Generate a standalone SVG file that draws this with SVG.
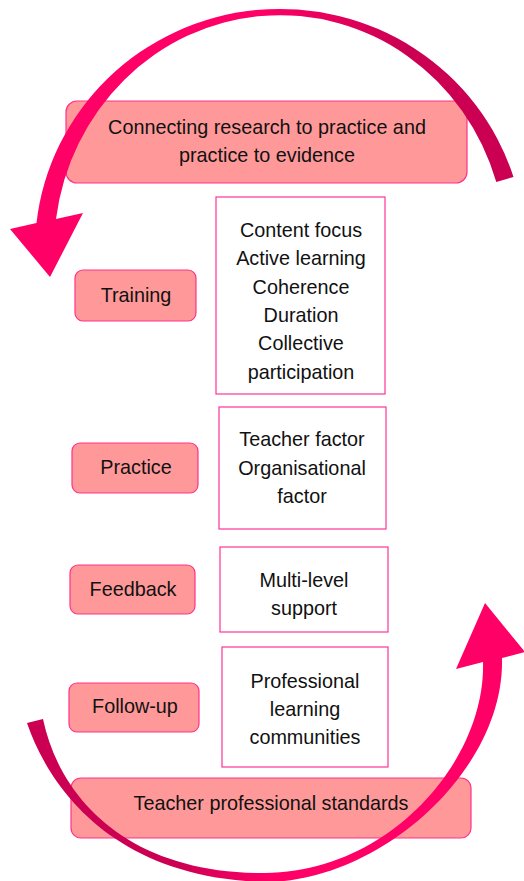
<svg xmlns="http://www.w3.org/2000/svg" width="524" height="881" viewBox="0 0 524 881">
  <style>
    .lbl { fill: #ff9999; stroke: #ff3388; stroke-width: 1.2; }
    .det { fill: #ffffff; stroke: #ff3399; stroke-width: 1.2; }
    text { font-family: "Liberation Sans", Arial, sans-serif; font-size: 19.8px; fill: #111111; text-anchor: middle; }
  </style>
  <defs>
    <linearGradient id="gTop" gradientUnits="userSpaceOnUse" x1="260" y1="0" x2="400" y2="0">
      <stop offset="0" stop-color="#ff0066"/>
      <stop offset="1" stop-color="#cc0052"/>
    </linearGradient>
    <linearGradient id="gBot" gradientUnits="userSpaceOnUse" x1="180" y1="0" x2="270" y2="0">
      <stop offset="0" stop-color="#cc0052"/>
      <stop offset="1" stop-color="#ff0066"/>
    </linearGradient>
  </defs>

  <g id="node-top">
    <rect class="lbl" x="66" y="101" width="401" height="82" rx="11"/>
    <text x="267" y="134">Connecting research to practice and</text>
    <text x="267" y="162">practice to evidence</text>
  </g>

  <g id="node-training">
    <rect class="lbl" x="75" y="270" width="121" height="51" rx="8"/>
    <text x="136" y="302">Training</text>
  </g>
  <g id="node-training-detail">
    <rect class="det" x="216" y="197" width="169" height="197"/>
    <text x="301" y="237">Content focus</text>
    <text x="301" y="265">Active learning</text>
    <text x="301" y="293.5">Coherence</text>
    <text x="301" y="322">Duration</text>
    <text x="301" y="350">Collective</text>
    <text x="301" y="378.5">participation</text>
  </g>

  <g id="node-practice">
    <rect class="lbl" x="72" y="443" width="126" height="50" rx="8"/>
    <text x="136" y="474">Practice</text>
  </g>
  <g id="node-practice-detail">
    <rect class="det" x="219" y="407" width="167" height="122"/>
    <text x="302" y="446">Teacher factor</text>
    <text x="302" y="474.5">Organisational</text>
    <text x="302" y="503">factor</text>
  </g>

  <g id="node-feedback">
    <rect class="lbl" x="70" y="565" width="125" height="49" rx="8"/>
    <text x="133" y="596">Feedback</text>
  </g>
  <g id="node-feedback-detail">
    <rect class="det" x="220" y="547" width="168" height="85"/>
    <text x="304" y="587">Multi-level</text>
    <text x="304" y="615">support</text>
  </g>

  <g id="node-followup">
    <rect class="lbl" x="69" y="683" width="130" height="49" rx="8"/>
    <text x="135" y="713">Follow-up</text>
  </g>
  <g id="node-followup-detail">
    <rect class="det" x="222" y="647" width="166" height="120"/>
    <text x="305" y="687.5">Professional</text>
    <text x="305" y="716">learning</text>
    <text x="305" y="744">communities</text>
  </g>

  <g id="node-standards">
    <rect class="lbl" x="71" y="778" width="400" height="60" rx="10"/>
    <text x="271" y="809.5">Teacher professional standards</text>
  </g>

  <g id="connectors">
    <path fill="url(#gTop)" d="M 513.5,177 A 245 241 0 0 0 36.5,223 L 10,229 L 50,277 L 83,213 L 56,219 A 226 235 0 0 1 496.3,182 Z"/>
    <path fill="url(#gBot)" d="M 27,723 C 50,790 115,878 265,882 C 380,882 505,770 502,658 L 525,652 L 485,603 L 456,669 L 483,662 C 486,760 390,872 265,873 C 130,874 60,800 43,719 Z"/>
  </g>
</svg>
